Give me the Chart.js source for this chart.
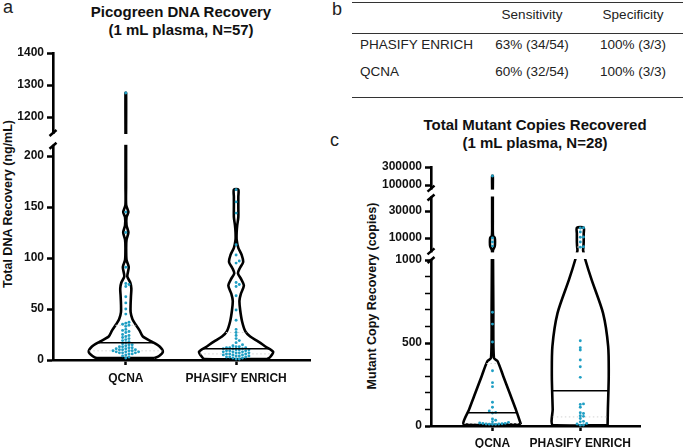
<!DOCTYPE html>
<html>
<head>
<meta charset="utf-8">
<script src="https://cdn.jsdelivr.net/npm/chart.js@4.4.0/dist/chart.umd.min.js"></script>
<style>
  body { margin: 0; width: 685px; height: 448px; position: relative; background: #fff; overflow: hidden;
         font-family: Arial, "Liberation Sans", Helvetica, sans-serif; }
  .abs { position: absolute; white-space: nowrap; }
  canvas { position: absolute; top: 0; }
  .letter { font-size: 18px; color: #222; line-height: 18px; }
  .title { font-weight: bold; font-size: 15px; line-height: 18px; color: #111; text-align: center; transform: translateX(-50%); }
  .ytitle { font-weight: bold; font-size: 12.5px; color: #111; transform: translate(-50%, -50%) rotate(-90deg); }
  .cell { font-size: 13.5px; color: #222; line-height: 16px; }
  .rule { height: 1.6px; background: #333; }
</style>
</head>
<body>
<div class="abs letter" style="left:3px;top:-2px">a</div>
<div class="abs letter" style="left:332px;top:0px">b</div>
<div class="abs letter" style="left:330px;top:131px">c</div>

<div class="abs title" style="left:181px;top:3px">Picogreen DNA Recovery<br>(1 mL plasma, N=57)</div>
<div class="abs title" style="left:535px;top:116px">Total Mutant Copies Recovered<br>(1 mL plasma, N=28)</div>
<div class="abs ytitle" style="left:8px;top:204px">Total DNA Recovery (ng/mL)</div>
<div class="abs ytitle" style="left:372px;top:296px">Mutant Copy Recovery (copies)</div>

<div id="table"></div>
<canvas id="chartA" width="330" height="448" style="left:0"></canvas>
<canvas id="chartC" width="355" height="448" style="left:330px"></canvas>

<script>
// ---------- data ----------
const categories = ['QCNA', 'PHASIFY ENRICH'];

// panel a: picogreen DNA recovery (ng/mL), N=57
const dnaQcna = [1275, 145, 125, 91, 75, 74, 72, 62, 56, 50, 45, 37, 36, 35, 34, 33, 30, 29, 28, 27,
  25, 24, 23, 22, 21, 20, 19, 18, 17, 16, 15, 15, 14, 13, 13, 12, 12, 11, 11, 10,
  10, 10, 9, 9, 9, 8, 8, 8, 7, 7, 7, 6, 6, 5, 4, 3, 2];
const dnaPhasify = [167, 155, 144, 113, 103, 97, 95, 76, 74, 72, 63, 49, 39, 30, 27, 24, 21, 19, 17, 15,
  14, 13, 13, 12, 12, 12, 11, 11, 11, 10, 10, 10, 9, 9, 9, 8, 8, 8, 7, 7,
  7, 6, 6, 6, 5, 5, 5, 4, 4, 4, 3, 3, 3, 2, 2, 1, 1];

// violin outlines (relative density at each level)
const dnaQcnaLevels = [2, 4, 8, 13, 18, 23, 29, 35, 40, 47, 55, 63, 70, 76, 82, 91, 98, 110, 118, 125, 132, 140, 145, 152, 170, 205, 1160, 1275];
const dnaQcnaDensity = [0.78, 0.9, 1.0, 0.92, 0.7, 0.46, 0.37, 0.26, 0.18, 0.13, 0.13, 0.14, 0.15, 0.12, 0.04, 0.08, 0.02, 0.01, 0.02, 0.07, 0.02, 0.02, 0.07, 0.01, 0.008, 0.008, 0.008, 0.008];
const dnaPhasifyLevels = [1, 3, 8, 13, 18, 23, 28, 38, 49, 58, 65, 73, 79, 85, 90, 96, 103, 110, 118, 125, 132, 140, 150, 160, 167];
const dnaPhasifyDensity = [0.85, 0.92, 1.0, 0.8, 0.6, 0.38, 0.25, 0.16, 0.11, 0.09, 0.13, 0.21, 0.14, 0.05, 0.1, 0.19, 0.15, 0.06, 0.015, 0.015, 0.03, 0.06, 0.06, 0.06, 0.06];

const ticksA = [0, 50, 100, 150, 200, 1200, 1300, 1400];
const tickLabelsA = ['0', '50', '100', '150', '200', '1200', '1300', '1400'];

// panel c: total mutant copies recovered, N=28
const copiesQcna = [200000, 10000, 8500, 7200, 685, 614, 506, 333, 261, 237, 143, 113, 90, 82,
  78, 42, 35, 26, 22, 18, 16, 15, 14, 12, 12, 11, 10, 10];
const copiesPhasify = [15200, 15000, 12800, 10400, 10300, 8500, 7000, 6900, 514, 472, 458, 398, 357, 293,
  133, 130, 113, 80, 75, 62, 58, 45, 28, 25, 15, 12, 6, 5];

const copiesQcnaLevels = [10, 100, 200, 300, 390, 410, 700, 1000, 6000, 7200, 8500, 10000, 11000, 20000, 52000, 60000, 200000];
const copiesQcnaDensity = [1.0, 0.82, 0.6, 0.38, 0.18, 0.05, 0.03, 0.02, 0.015, 0.08, 0.09, 0.08, 0.02, 0.012, 0.012, 0.012, 0.012];
const copiesPhasifyLevels = [5, 100, 300, 480, 680, 880, 1000, 6000, 6900, 8500, 12000, 15200];
const copiesPhasifyDensity = [0.96, 0.97, 1.0, 0.98, 0.8, 0.4, 0.18, 0.1, 0.11, 0.12, 0.12, 0.12];

const ticksC = [0, 100, 200, 300, 400, 500, 600, 700, 800, 900, 1000, 10000, 30000, 100000, 300000];
const tickLabelsC = ['0', '', '', '', '', '500', '', '', '', '', '1000', '10000', '30000', '100000', '300000'];

// panel b table
const tableHeader = ['', 'Sensitivity', 'Specificity'];
const tableRows = [
  ['PHASIFY ENRICH', '63% (34/54)', '100% (3/3)'],
  ['QCNA', '60% (32/54)', '100% (3/3)']
];

// ---------- table ----------
(function () {
  const box = document.getElementById('table');
  const rowY = [7, 37, 64];
  const colX = [360, 532, 633];
  [tableHeader].concat(tableRows).forEach((row, r) => {
    row.forEach((txt, c) => {
      const d = document.createElement('div');
      d.className = 'abs cell';
      d.textContent = txt;
      d.style.top = rowY[r] + 'px';
      d.style.left = colX[c] + 'px';
      if (c > 0) d.style.transform = 'translateX(-50%)';
      box.appendChild(d);
    });
  });
  [1.5, 32.5, 96.5].forEach(y => {
    const l = document.createElement('div');
    l.className = 'abs rule';
    l.style.cssText += `left:352px;width:331px;top:${y}px`;
    box.appendChild(l);
  });
})();

// ---------- helpers ----------
const FONT = 'Arial, "Liberation Sans", Helvetica, sans-serif';
Chart.defaults.font.family = FONT;
Chart.defaults.color = '#000';
const DOT = '#1f9fc4';

// broken axis: piecewise value -> display mapping
function makeMap(segs) {
  return v => {
    for (let i = 0; i < segs.length; i++) {
      const s = segs[i];
      if (v <= s.hi || i === segs.length - 1) {
        if (v >= s.lo || i === 0) {
          const f = s.log
            ? (Math.log10(v) - Math.log10(s.lo)) / (Math.log10(s.hi) - Math.log10(s.lo))
            : (v - s.lo) / (s.hi - s.lo);
          return s.d0 + f * (s.d1 - s.d0);
        }
        const p = segs[i - 1];
        return p.d1 + (v - p.hi) / (s.lo - p.hi) * (s.d0 - p.d1);
      }
    }
  };
}

function interp(levels, dens, v) {
  if (v <= levels[0]) return dens[0];
  for (let i = 1; i < levels.length; i++) {
    if (v <= levels[i]) {
      const f = (v - levels[i - 1]) / (levels[i] - levels[i - 1]);
      return dens[i - 1] + f * (dens[i] - dens[i - 1]);
    }
  }
  return dens[dens.length - 1];
}

function quantile(arr, q) {
  const s = [...arr].sort((a, b) => a - b);
  const pos = (s.length - 1) * q, lo = Math.floor(pos);
  return s[lo] + (s[Math.ceil(pos)] - s[lo]) * (pos - lo);
}

// simple beeswarm, offsets in pixels
function swarm(values, toD, pxPerX, center) {
  const placed = [];
  return values.map(v => toD(v)).sort((a, b) => a - b).map(d => {
    let off = 0;
    for (let n = 0; n < 60; n++) {
      off = (n % 2 ? 1 : -1) * Math.ceil(n / 2) * 3.2;
      if (!placed.some(q => Math.abs(q.d - d) < 2.3 && Math.abs(q.px - off) < 3)) break;
    }
    placed.push({ px: off, d });
    return { x: center + off / pxPerX, y: d };
  });
}

const breakPlugin = {
  id: 'axisBreaks',
  afterDatasetsDraw(chart, args, opts) {
    const { ctx, chartArea, scales } = chart;
    const y = scales.y;
    ctx.save();
    opts.gaps.forEach(([lo, hi]) => {
      const yBot = y.getPixelForValue(lo), yTop = y.getPixelForValue(hi);
      ctx.fillStyle = '#fff';
      ctx.fillRect(chartArea.left - 4, yTop + 1, chartArea.right - chartArea.left + 8, yBot - yTop - 2);
      ctx.strokeStyle = '#000';
      ctx.lineWidth = 2.5;
      [yBot, yTop].forEach(py => {
        ctx.beginPath();
        ctx.moveTo(chartArea.left - 3.5, py + 3);
        ctx.lineTo(chartArea.left + 3.5, py - 3);
        ctx.stroke();
      });
    });
    ctx.restore();
  }
};

function buildPanel(cfg) {
  const toD = makeMap(cfg.segs);
  const dMax = cfg.segs[cfg.segs.length - 1].d1;
  const canvas = document.getElementById(cfg.id);
  const plotW = canvas.width - cfg.pad.left - cfg.axisW - cfg.pad.right;
  const pxPerX = plotW / (cfg.xMax - cfg.xMin);
  const datasets = [];

  cfg.groups.forEach((g, gi) => {
    const right = g.levels.map((v, i) => ({ x: gi + g.dens[i] * cfg.halfW, y: toD(v) }));
    const left = g.levels.map((v, i) => ({ x: gi - g.dens[i] * cfg.halfW, y: toD(v) })).reverse();
    datasets.push({
      data: right.concat(left, [right[0]]), showLine: true, tension: 0.25,
      borderColor: '#000', borderWidth: 2.6, pointRadius: 0, fill: false, order: 3
    });
    const lineAt = (v, style) => {
      const w = interp(g.levels, g.dens, v) * cfg.halfW;
      datasets.push(Object.assign({
        data: [{ x: gi - w, y: toD(v) }, { x: gi + w, y: toD(v) }],
        showLine: true, pointRadius: 0, order: 2
      }, style));
    };
    lineAt(quantile(g.values, 0.25), { borderColor: '#d4d4d4', borderWidth: 1, borderDash: [1.5, 2.5] });
    lineAt(quantile(g.values, 0.75), { borderColor: '#d4d4d4', borderWidth: 1, borderDash: [1.5, 2.5] });
    datasets.push({
      data: swarm(g.values, toD, pxPerX, gi), pointRadius: 1.45, pointBackgroundColor: DOT,
      pointBorderWidth: 0, showLine: false, order: 1, clip: false
    });
    lineAt(quantile(g.values, 0.5), { borderColor: '#000', borderWidth: 1.5, order: 0 });
  });

  const gaps = [];
  for (let i = 1; i < cfg.segs.length; i++) gaps.push([cfg.segs[i - 1].d1, cfg.segs[i].d0]);

  return new Chart(canvas.getContext('2d'), {
    type: 'scatter',
    data: { datasets },
    plugins: [breakPlugin],
    options: {
      responsive: false,
      animation: false,
      layout: { padding: cfg.pad },
      plugins: { legend: { display: false }, tooltip: { enabled: false }, axisBreaks: { gaps } },
      scales: {
        x: {
          type: 'linear', min: cfg.xMin, max: cfg.xMax,
          afterBuildTicks: s => { s.ticks = categories.map((c, i) => ({ value: i })); },
          afterFit: s => { s.height = cfg.axisH; },
          ticks: {
            callback: (v, i) => categories[i], autoSkip: false, maxRotation: 0, padding: cfg.xPad,
            color: '#111', font: { size: 12, weight: 'bold' }
          },
          grid: { drawOnChartArea: false, tickLength: 5, tickWidth: 2.5, tickColor: '#000' },
          border: { display: true, width: 2.6, color: '#000' }
        },
        y: {
          type: 'linear', min: 0, max: dMax,
          afterBuildTicks: s => { s.ticks = cfg.ticks.map(v => ({ value: toD(v) })); },
          afterFit: s => { s.width = cfg.axisW; },
          ticks: {
            callback: (v, i) => cfg.tickLabels[i], autoSkip: false, padding: 3,
            color: '#111', font: { size: 12, weight: 'bold' }
          },
          grid: {
            drawOnChartArea: false, tickLength: 6, tickColor: '#000',
            tickWidth: c => (cfg.tickLabels[c.index] ? 2.5 : 1.5)
          },
          border: { display: true, width: 2.6, color: '#000' }
        }
      }
    }
  });
}

window.onload = () => {
  buildPanel({
    id: 'chartA', pad: { left: 0, top: 53, right: 20, bottom: 53 }, axisW: 53, axisH: 35, xPad: 6,
    xMin: -0.66, xMax: 1.67, halfW: 0.336,
    segs: [{ lo: 0, hi: 210, d0: 0, d1: 214.2 }, { lo: 1150, hi: 1400, d0: 227, d1: 307 }],
    ticks: ticksA, tickLabels: tickLabelsA,
    groups: [
      { values: dnaQcna, levels: dnaQcnaLevels, dens: dnaQcnaDensity },
      { values: dnaPhasify, levels: dnaPhasifyLevels, dens: dnaPhasifyDensity }
    ]
  });
  buildPanel({
    id: 'chartC', pad: { left: 0, top: 167, right: 45, bottom: 0 }, axisW: 101, axisH: 22, xPad: 5,
    xMin: -0.7, xMax: 1.68, halfW: 0.324,
    segs: [
      { lo: 0, hi: 1000, d0: 0, d1: 166 },
      { lo: 5800, hi: 52000, d0: 174.6, d1: 228.5, log: true },
      { lo: 60000, hi: 300000, d0: 237.4, d1: 259 }
    ],
    ticks: ticksC, tickLabels: tickLabelsC,
    groups: [
      { values: copiesQcna, levels: copiesQcnaLevels, dens: copiesQcnaDensity },
      { values: copiesPhasify, levels: copiesPhasifyLevels, dens: copiesPhasifyDensity }
    ]
  });
};
</script>
</body>
</html>
